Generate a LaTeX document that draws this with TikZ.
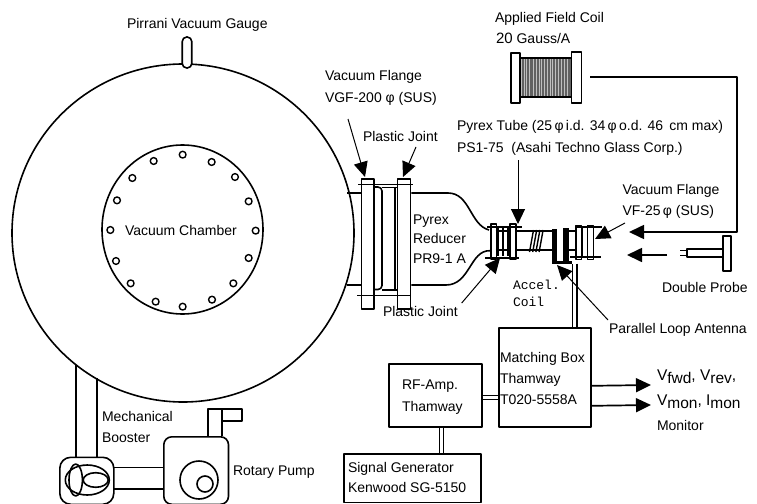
\documentclass[tikz,border=0pt]{standalone}
\usepackage{fontspec}
\setmainfont{Liberation Sans}
\newfontfamily\monof{Liberation Mono}
\usetikzlibrary{calc,arrows.meta,shapes.geometric}
\tikzset{
 lw/.style={line width=1.6pt,black},
 thin line/.style={line width=0.9pt,black},
 lbl/.style={anchor=base west,inner sep=0pt,outer sep=0pt,font=\fontsize{14}{16}\selectfont,text=black},
 boxn/.style={draw,line width=1.6pt,inner sep=0pt,anchor=north west},
 pointer/.style={line width=1pt,-{Triangle[length=15pt,width=14pt]},shorten >=0pt},
 outarrow/.style={line width=1.7pt,-{Triangle[length=15pt,width=14pt]}},
 dbl/.style={double=white,double distance=2.6pt,line width=1.5pt,black},
 flange/.style={draw,line width=1.6pt,fill=white,anchor=north west,inner sep=0pt,minimum width=#1},
}
\newcommand{\lab}[4]{\node[lbl] (#1) at (#2,#3) {#4};}
\newcommand{\subt}[1]{\raisebox{-3pt}{#1}}
\newcommand{\bigf}{\fontsize{15.5}{16}\selectfont}
\begin{document}
\begin{tikzpicture}[x=1pt,y=-1pt,line join=round]
\useasboundingbox (0,0) rectangle (757,503);
% chamber
\node[draw,lw,ellipse,minimum width=342pt,minimum height=338pt,inner sep=0pt] (chamber) at (183,233) {};
\node[draw,lw,ellipse,minimum width=161pt,minimum height=169pt,inner sep=0pt] (inner) at (182.5,229.5) {};
\foreach \a/\b in {278/44,365/66,435/111,476/184,497/272,476/354,430/430,366/479,278/500,197/485,122/430,78/363,61/270,81/181,127/114,191/63}
  \draw[line width=1.4pt] ({90+\a/3},{140+\b/3}) circle (3.4pt);
% gauge
\node[draw,lw,fill=white,rounded corners=4.5pt,minimum width=9.5pt,minimum height=31pt,inner sep=0pt] (gauge) at (187,52.5) {};
% pipe chamber to big flange
\coordinate (pa) at (347,193); \coordinate (pb) at (347,285);
% big flange group
\draw[lw] (pa) -- (361,193) (pb) -- (361,285);
\node[flange=12.6pt,minimum height=130pt] (f1) at (360.7,178) {};
\node[flange=13pt,minimum height=130pt] (f2) at (396.8,178) {};
\draw[thin line] (358,184) -- (413,184) (357,295) -- (411,295);
\draw[lw,rounded corners=4pt] (373.3,187) -- (382,187) -- (382,289.5) -- (373.3,289.5);
\draw[lw] (382,187.5) -- (396.8,187.5) (382,290) -- (396.8,290) (395,187.5) -- (395,290);
% reducer
\draw[lw] (f2.east |- pa) -- (448,193) .. controls (470,193) and (470,225) .. (489,230);
\draw[lw] (f2.east |- pb) -- (446,285) .. controls (470,285) and (470,250) .. (490,250.7);
% small joints
\coordinate (ja) at (515,230.7); \coordinate (jb) at (515,250);
\draw[lw] (ja) -- (553,230.7) (jb) -- (553,250);
\node[flange=5.5pt,minimum height=35pt] (j1) at (490,223.3) {};
\node[flange=6pt,minimum height=35pt] (j2) at (509,223.3) {};
\draw[lw] (495.5,231) -- (509,231) (495.5,250) -- (509,250);
\fill (496,227) rectangle (498.5,256);
\fill (501.5,228) rectangle (503.5,256);
\fill (507,228) rectangle (509,256);
\draw[line width=1.6pt] (487,227) -- (522,227) (485,258) -- (519,258);
% accel coil
\foreach \i in {0,1,2,3} \draw[line width=1.4pt] ({529.5+3.2*\i},252) -- ({533.5+3.2*\i},230);
% antenna
\fill (551.7,229) rectangle (557.3,263.5);
\fill (563,228) rectangle (569,263.5);
\fill (552,260.5) rectangle (572,263.5);
\draw[lw] (569,230.7) -- (578,230.7) (569,250) -- (578,250);
% second joint
\node[flange=5.5pt,minimum height=34pt] (j3) at (575,224.5) {};
\node[flange=6pt,minimum height=34pt] (j4) at (586.7,224.5) {};
\fill (580.5,227) rectangle (582.5,256);
\draw[line width=1.6pt] (577,227) -- (602,227) (570,257) -- (601,257);
\coordinate (ant) at (574.7,263.5);
% boxes
\node[boxn,minimum width=92pt,minimum height=99pt] (mb) at (498,327) {};
\node[boxn,minimum width=93pt,minimum height=63pt] (rf) at (388,363) {};
\node[boxn,minimum width=137pt,minimum height=48.5pt] (sg) at (343,453) {};
\draw[dbl] (ant) -- (ant |- mb.north);
\coordinate (rfo) at ($(rf.east)+(0,2.2)$);
\draw[dbl] (rfo) -- (mb.west |- rfo);
\coordinate (rfs) at ($(rf.south)+(6,0)$);
\draw[dbl] (rfs) -- (rfs |- sg.north);
% output arrows
\draw[outarrow] ($(mb.east)+(0,8.5)$) -- (651,385);
\draw[outarrow] ($(mb.east)+(0,28.5)$) -- (651,405);
% pumps
\node[draw,lw,rounded corners=11pt,minimum width=54pt,minimum height=47pt,anchor=north west,inner sep=0pt] (boost) at (59,456.5) {};
\node[draw,lw,rounded corners=8pt,minimum width=64.7pt,minimum height=67.5pt,anchor=north west,inner sep=0pt] (rot) at (163,436) {};
\draw[lw] (75.7,365) -- (75.7,456.5) (97,378) -- (97,456.5);
\draw[lw] (113,467.3) -- (163,467.3) (113,489) -- (163,489);
\draw[lw] (87.3,480) ellipse (22pt and 15pt);
\draw[lw] (75.7,480) ellipse (6.7pt and 16pt);
\draw[lw] (95.7,480) ellipse (12.5pt and 7.3pt);
\draw[lw] (199,480) circle (19pt);
\draw[lw] (205,484) circle (8pt);
\draw[lw] (207.7,436) -- (207.7,409) -- (241.7,409) -- (241.7,421) -- (222,421);
\draw[lw] (222,409) -- (222,436);
% applied field coil
\fill[black!62] (519,58) rectangle (571,97);
\foreach \x in {521,524,526,529,533,536,539,541,544,547,550,552,555,558,561,564,567}
  \draw[white!75!black,line width=0.5pt] (\x,59) -- (\x,96);
\draw[lw] (519,58) -- (571,58) (519,97) -- (571,97);
\node[flange=9pt,minimum height=50pt] (cl) at (510,52) {};
\node[flange=10pt,minimum height=51pt] (cr) at (570.7,51) {};
% wire and probe
\coordinate (wire) at (590,77);
\coordinate (tip1) at (629,232);
\draw[line width=1.6pt,-{Triangle[length=15pt,width=14pt]}] (wire) -- (737,77) -- (737,232) -- (tip1);
\node[draw,lw,minimum width=8pt,minimum height=35pt,inner sep=0pt] (probehead) at (726.7,253.5) {};
\draw[line width=1.4pt] (probehead.west |- 0,249) -- (687,249) -- (687,257) -- (probehead.west |- 0,257);
\draw[line width=1.4pt] (680,250.5) -- (687,250.5) (680,255.5) -- (687,255.5);
\coordinate (ps) at (667,255); \coordinate (tip2) at (627,255);
\draw[line width=1.7pt,-{Triangle[length=15pt,width=14pt]}] (ps) -- (tip2);
% texts
\lab{tgauge}{127}{28.5}{Pirrani Vacuum Gauge}
\lab{tvf}{325}{81}{Vacuum Flange}
\lab{tvg}{325}{102}{VGF-200 φ (SUS)}
\lab{tpj}{363}{141}{Plastic Joint}
\lab{tpt}{457}{130}{Pyrex Tube (25\,φ\,i.d. 34\,φ\,o.d. 46 \,cm max)}
\lab{tps}{457}{152}{PS1-75 \ (Asahi Techno Glass Corp.)}
\lab{tac}{495}{23}{Applied Field Coil}
\lab{tgs}{496}{44}{{\fontsize{15}{15}\selectfont 20} Gauss/A}
\lab{tvf2}{622.5}{194}{Vacuum Flange}
\lab{tvg2}{622.5}{215}{VF-25\,φ (SUS)}
\lab{tdp}{662}{292}{Double Probe}
\lab{tpl}{609}{333}{Parallel Loop Antenna}
\node[lbl,font=\monof\fontsize{13}{15}\selectfont] (tacc) at (513,289) {Accel.};
\node[lbl,font=\monof\fontsize{13}{15}\selectfont] (tcoi) at (513,306) {Coil};
\lab{tr1}{413}{224}{Pyrex}
\lab{tr2}{413}{243}{Reducer}
\lab{tr3}{413}{263}{PR9-1 A}
\lab{tpj2}{383}{316}{Plastic Joint}
\lab{tvc}{125}{235}{Vacuum Chamber}
\lab{tm}{102}{421}{Mechanical}
\lab{tb}{102}{442}{Booster}
\lab{trp}{233}{475}{Rotary Pump}
\lab{tm1}{500}{362}{Matching Box}
\lab{tm2}{500}{383}{Thamway}
\lab{tm3}{500}{404}{T020-5558A}
\lab{trf1}{402}{389}{RF-Amp.}
\lab{trf2}{402}{411}{Thamway}
\lab{tsg1}{348}{472}{Signal Generator}
\lab{tsg2}{348}{492}{Kenwood SG-5150}
\lab{tv1}{657}{380}{\bigf V\subt{fwd}, V\subt{rev},}
\lab{tv2}{657}{405}{\bigf V\subt{mon}, I\subt{mon}}
\lab{tv3}{657}{430.5}{Monitor}
% pointers
\coordinate (p1) at (348,119); \draw[pointer] (p1) -- (365,177);
\coordinate (p2) at (416,147); \draw[pointer] (p2) -- (403,177);
\coordinate (p3) at (518,160); \draw[pointer] (p3) -- (518,224);
\coordinate (p4) at (461.7,303); \draw[pointer] (p4) -- (500,258);
\coordinate (p5) at (608,320); \draw[pointer] (p5) -- (557,265);
\coordinate (p6) at (625,223); \draw[pointer] (p6) -- (595,239);
\end{tikzpicture}
\end{document}
